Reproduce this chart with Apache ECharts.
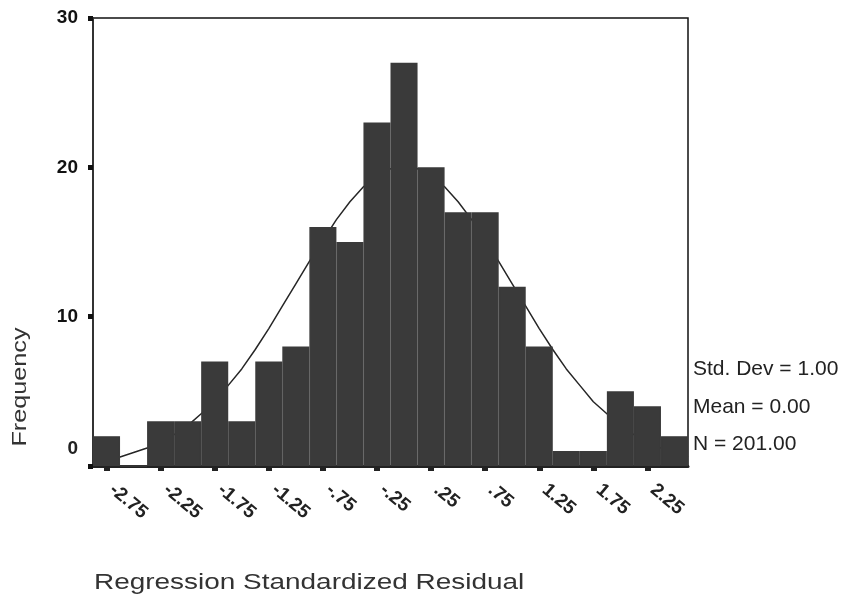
<!DOCTYPE html>
<html>
<head>
<meta charset="utf-8">
<script src="https://cdn.jsdelivr.net/npm/echarts@6/dist/echarts.min.js"></script>
<style>
  html, body { margin: 0; padding: 0; background: #ffffff; }
  #chart { width: 846px; height: 603px; }
</style>
</head>
<body>
<div id="chart"></div>
<script>
// Bin centres (width 0.25), labelled SPSS-style; every other one is shown on the axis
const categories = ['-2.75','-2.50','-2.25','-2.00','-1.75','-1.50','-1.25','-1.00','-.75','-.50','-.25',
                    '0.00','.25','.50','.75','1.00','1.25','1.50','1.75','2.00','2.25','2.50'];
// Frequencies
const frequency = [2,0,3,3,7,3,7,8,16,15,23,27,20,17,17,12,8,1,1,5,4,2];
// Y axis ticks
const yTicks = [0, 10, 20, 30];
// Normal curve
const curveX = [-2.875,-2.75,-2.625,-2.5,-2.375,-2.25,-2.125,-2.0,-1.875,-1.75,-1.625,-1.5,-1.375,-1.25,-1.125,-1.0,
                -0.875,-0.75,-0.625,-0.5,-0.375,-0.25,-0.125,0,0.125,0.25,0.375,0.5,0.625,0.75,0.875,1.0,
                1.125,1.25,1.375,1.5,1.625,1.75,1.875,2.0,2.125,2.25,2.375,2.5,2.625];
const curveY = [0.3,0.5,0.6,0.9,1.2,1.6,2.1,2.7,3.5,4.3,5.4,6.5,7.8,9.2,10.7,12.2,
                13.7,15.1,16.5,17.7,18.7,19.4,19.9,20.0,19.9,19.4,18.7,17.7,16.5,15.1,13.7,12.2,
                10.7,9.2,7.8,6.5,5.4,4.3,3.5,2.7,2.1,1.6,1.2,0.9,0.6];
// Summary statistics text
const statLines = ['Std. Dev = 1.00', 'Mean = 0.00', 'N = 201.00'];
const xTitle = 'Regression Standardized Residual';
const yTitle = 'Frequency';

const FONT = "'Liberation Sans', Arial, sans-serif";
const BAR = '#3a3a3a';
const chart = echarts.init(document.getElementById('chart'), null, { renderer: 'canvas' });

const statY = [369, 407, 444];
const graphics = statLines.map((t, i) => ({
  type: 'text', x: 693, y: statY[i],
  style: { text: t, font: '21px ' + FONT, fill: '#222', textVerticalAlign: 'middle', textAlign: 'left' }
}));
graphics.push({
  type: 'text', x: 94, y: 583, scaleX: 1.27, scaleY: 1,
  style: { text: xTitle, font: '22px ' + FONT, fill: '#333', textVerticalAlign: 'middle', textAlign: 'left' }
});
graphics.push({
  type: 'text', x: 20, y: 387, rotation: Math.PI / 2, scaleX: 1.2, scaleY: 1,
  style: { text: yTitle, font: '21px ' + FONT, fill: '#333', textVerticalAlign: 'middle', textAlign: 'center' }
});

const option = {
  backgroundColor: '#ffffff',
  animation: false,
  grid: {
    left: 93, right: 158, top: 18, bottom: 137,
    show: true, borderColor: '#111', borderWidth: 1.5, backgroundColor: 'transparent'
  },
  xAxis: [
    {
      type: 'category',
      data: categories,
      boundaryGap: true,
      axisLine: { show: true, onZero: false, lineStyle: { color: '#222', width: 3 } },
      axisTick: { show: true, interval: 1, alignWithLabel: true, length: 5, lineStyle: { color: '#222', width: 6 } },
      axisLabel: {
        interval: 1, rotate: -40, margin: 17, padding: [0, 0, 0, 7],
        fontFamily: FONT, fontSize: 19, fontWeight: 'bold', color: '#222'
      },
      splitLine: { show: false }
    },
    {
      type: 'value', min: -2.875, max: 2.625, show: false,
      axisLine: { show: false, onZero: false }, axisTick: { show: false }, axisLabel: { show: false }, splitLine: { show: false }
    }
  ],
  yAxis: {
    type: 'value', min: yTicks[0], max: yTicks[yTicks.length - 1], interval: 10,
    axisLine: { show: true, onZero: false, lineStyle: { color: '#333', width: 2 } },
    axisTick: { show: true, length: 5, lineStyle: { color: '#111', width: 5 } },
    axisLabel: {
      margin: 15, fontFamily: FONT, fontSize: 19, fontWeight: 'bold', color: '#111',
      formatter: v => v === 0 ? '{z|0}' : String(v),
      rich: { z: { fontFamily: FONT, fontSize: 19, color: '#222', padding: [0, 0, 34, 0] } }
    },
    splitLine: { show: false }
  },
  series: [
    {
      type: 'line', xAxisIndex: 1, z: 1, symbol: 'none', smooth: false,
      data: curveX.map((x, i) => [x, curveY[i]]),
      lineStyle: { color: '#262626', width: 1.5, opacity: 1 }
    },
    {
      type: 'bar', xAxisIndex: 0, zlevel: 1, z: 5,
      data: frequency,
      barCategoryGap: '0%', barGap: '0%',
      itemStyle: { color: BAR, borderColor: BAR, borderWidth: 1.5, opacity: 1 },
      emphasis: { disabled: true }
    }
  ],
  graphic: graphics
};
chart.setOption(option);
</script>
</body>
</html>
